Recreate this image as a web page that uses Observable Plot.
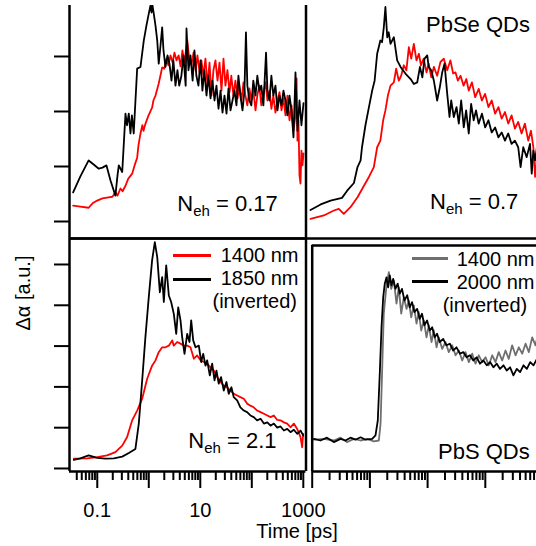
<!DOCTYPE html>
<html>
<head>
<meta charset="utf-8">
<script src="https://cdn.jsdelivr.net/npm/d3@7"></script>
<script src="https://cdn.jsdelivr.net/npm/@observablehq/plot@0.6"></script>
<style>
  html, body { margin: 0; padding: 0; background: white; }
  #chart { position: relative; width: 536px; height: 546px; overflow: hidden; background: white; }
  .lbl { position: absolute; font-family: "Liberation Sans", Arial, sans-serif; line-height: 1; white-space: nowrap; color: black; }
</style>
</head>
<body>
<div id="chart"></div>
<script>
// ---------- data: [time (ps), signal (a.u.)] ----------
const tlRed = [[0.034,0.29],[0.047,0.27],[0.068,0.25],[0.081,0.33],[0.0995,0.38],[0.126,0.42],[0.165,0.44],[0.197,0.45],[0.225,0.53],[0.247,0.47],[0.282,0.60],[0.31,0.55],[0.353,0.65],[0.40,0.78],[0.476,0.87],[0.53,1.02],[0.595,1.16],[0.63,1.38],[0.69,1.60],[0.75,1.75],[0.79,1.65],[0.863,1.78],[0.99,1.93],[1.16,2.07],[1.23,2.20],[1.35,2.29],[1.56,2.51],[1.82,2.80],[2.0,2.78],[2.2,2.96],[2.4,2.84],[2.64,3.02],[2.9,2.89],[3.15,3.07],[3.45,2.93],[3.8,3.02],[4.13,2.82],[4.5,3.11],[4.9,2.89],[5.6,3.29],[6.1,2.96],[6.7,2.84],[7.4,3.07],[8.1,2.75],[8.8,3.02],[9.7,2.71],[10.5,2.93],[11.5,2.65],[12.6,2.96],[13.8,2.47],[15.1,2.89],[16.5,2.29],[18,2.75],[19.7,2.93],[21.6,2.56],[23.6,2.89],[25.8,2.38],[28.2,2.96],[30.8,2.47],[33.7,2.75],[37,2.35],[40,2.65],[44,2.29],[48,2.56],[53,2.24],[57,2.47],[63,2.20],[69,2.53],[75,2.29],[82,2.11],[90,2.42],[98,2.20],[107,2.38],[118,2.02],[128,2.29],[140,2.47],[153,2.11],[168,2.35],[185,2.53],[201,2.20],[220,2.38],[240,2.05],[262,2.29],[288,1.98],[315,2.20],[345,2.35],[377,2.02],[412,2.24],[451,1.93],[493,2.29],[539,1.84],[590,2.11],[645,1.65],[705,1.93],[740,2.6],[770,1.47],[806,1.84],[843,0.84],[882,0.69],[920,1.29],[965,1.02],[1009,1.24]];
const tlBlack = [[0.034,0.53],[0.047,0.82],[0.068,1.11],[0.084,1.04],[0.107,0.96],[0.126,0.98],[0.151,1.02],[0.18,0.75],[0.225,0.47],[0.247,0.84],[0.262,1.02],[0.305,0.90],[0.353,1.96],[0.377,1.75],[0.409,1.96],[0.441,1.60],[0.47,1.93],[0.51,1.60],[0.595,2.78],[0.69,2.81],[0.80,3.29],[0.90,3.56],[1.0,3.78],[1.08,3.93],[1.13,3.80],[1.18,3.93],[1.25,3.78],[1.35,3.56],[1.46,3.29],[1.56,2.87],[1.69,3.20],[1.82,3.53],[1.93,3.11],[2.11,2.81],[2.31,3.02],[2.52,2.87],[2.76,2.56],[3.0,2.93],[3.3,2.47],[3.6,2.75],[3.9,2.47],[4.3,2.65],[4.7,3.02],[5.2,2.47],[5.4,3.51],[5.9,2.75],[6.45,3.02],[7.1,2.56],[7.7,3.11],[8.4,2.65],[9.2,2.47],[10.1,2.93],[11,2.38],[12,2.75],[13.2,2.29],[14.4,2.65],[15.8,2.24],[17.2,2.56],[18.9,2.20],[20.6,2.47],[22.6,2.05],[24.7,2.38],[27,1.98],[29.5,2.29],[32.3,1.96],[35.3,2.42],[38.6,2.02],[42.2,2.20],[46.1,2.38],[50.4,2.11],[55,2.65],[60,2.29],[66,2.02],[72,2.38],[77,3.44],[82,2.47],[90,2.20],[98,2.11],[107,2.56],[118,2.29],[128,2.65],[140,2.38],[153,2.47],[168,2.11],[189,3.07],[201,2.38],[220,2.20],[240,2.65],[262,2.29],[288,2.47],[315,2.02],[345,2.29],[377,2.11],[412,2.38],[451,2.20],[493,1.93],[539,2.29],[590,2.02],[645,1.53],[705,2.71],[770,1.65],[843,2.20],[920,1.75],[1009,2.15]];

const trRed = [[0.033,0.05],[0.06,0.11],[0.094,0.20],[0.117,0.23],[0.146,0.14],[0.197,0.26],[0.27,0.44],[0.36,0.65],[0.45,0.81],[0.56,0.99],[0.65,1.35],[0.75,1.47],[0.85,1.84],[0.94,2.02],[1.05,2.29],[1.18,2.47],[1.37,2.53],[1.52,2.78],[1.71,2.56],[1.90,2.65],[2.14,2.84],[2.4,2.75],[2.68,3.17],[2.98,2.96],[3.35,3.23],[3.77,2.93],[4.2,3.05],[4.6,2.84],[5.2,2.96],[5.9,2.71],[6.5,2.87],[7.3,2.62],[8.2,2.81],[9.5,2.65],[11,2.90],[12.8,2.96],[14.9,2.75],[17.2,2.93],[19.4,2.69],[21.6,2.71],[24,2.56],[27,2.65],[31,2.47],[35,2.59],[39,2.38],[45,2.53],[52,2.26],[61,2.41],[70,2.20],[81,2.32],[94,2.08],[109,2.20],[127,1.96],[147,2.08],[170,1.87],[197,1.99],[228,1.78],[265,1.93],[307,1.69],[356,1.81],[414,1.60],[480,1.78],[557,1.47],[630,1.65],[700,1.35],[758,0.81],[820,1.17]];
const trBlack = [[0.033,0.21],[0.052,0.31],[0.081,0.38],[0.135,0.43],[0.17,0.56],[0.23,0.70],[0.27,0.99],[0.31,1.11],[0.33,1.35],[0.385,1.75],[0.45,2.08],[0.52,2.38],[0.58,2.56],[0.65,3.05],[0.75,3.29],[0.81,3.26],[0.875,3.53],[0.94,3.90],[1.02,3.35],[1.09,3.44],[1.18,3.23],[1.37,3.35],[1.59,2.93],[1.85,2.81],[2.3,2.69],[2.9,2.59],[3.35,2.50],[3.9,2.53],[4.4,2.81],[4.9,2.62],[5.4,2.96],[6.1,3.02],[6.5,2.81],[7.3,2.75],[8.2,2.56],[9.5,2.20],[10.7,2.44],[11.9,2.71],[13.2,2.87],[14.9,2.32],[16.5,1.90],[17.8,2.20],[20,1.90],[22.6,2.08],[25,1.78],[27.8,2.20],[31.2,1.71],[34.7,2.02],[39,1.60],[43.4,2.14],[48.6,1.84],[54,2.02],[60.7,1.78],[70.4,1.96],[81.4,1.71],[94,1.84],[109,1.62],[127,1.71],[147,1.53],[170,1.62],[197,1.47],[228,1.60],[265,1.41],[307,1.47],[356,1.35],[396,0.99],[446,1.35],[520,1.17],[603,1.41],[652,0.87],[700,1.29],[758,1.11],[820,1.35]];

const blRed = [[0.035,0.24],[0.064,0.25],[0.0995,0.28],[0.155,0.32],[0.225,0.40],[0.305,0.56],[0.38,0.77],[0.476,1.18],[0.595,1.42],[0.745,1.71],[0.93,2.20],[1.16,2.52],[1.35,2.65],[1.56,2.85],[1.82,2.97],[2.11,2.97],[2.45,3.01],[2.85,3.14],[3.06,3.01],[3.56,3.10],[4.13,3.06],[4.79,3.01],[5.57,3.01],[6.45,2.97],[7.5,2.69],[8.7,2.77],[10.1,2.65],[11.7,2.61],[13.6,2.57],[15.8,2.48],[18.4,2.40],[21.3,2.24],[24.7,2.12],[28.6,2.03],[33.2,1.99],[38.6,1.91],[44.8,1.83],[52,1.79],[60,1.75],[70,1.71],[81,1.59],[94,1.54],[109,1.50],[127,1.42],[148,1.38],[172,1.34],[200,1.30],[231,1.26],[268,1.30],[312,1.19],[361,1.18],[420,1.13],[487,1.10],[564,1.01],[655,1.10],[760,0.97],[882,0.77],[950,0.52],[995,0.85]];
const blBlack = [[0.035,0.21],[0.047,0.25],[0.068,0.32],[0.0995,0.26],[0.144,0.24],[0.21,0.25],[0.305,0.29],[0.41,0.38],[0.55,0.48],[0.64,1.10],[0.745,2.16],[0.86,3.22],[1.0,4.20],[1.16,5.10],[1.31,5.55],[1.46,5.18],[1.64,4.32],[1.82,4.69],[1.96,4.08],[2.18,4.98],[2.45,4.24],[2.72,4.08],[3.06,3.79],[3.41,3.30],[3.73,3.95],[4.13,3.63],[4.45,3.22],[4.94,2.81],[5.57,3.30],[6.17,3.10],[6.66,3.63],[7.29,3.14],[8.07,2.97],[9.37,3.01],[10.4,2.61],[11.4,2.81],[12.6,2.52],[13.6,2.65],[15.3,2.28],[17,2.57],[18.9,2.16],[20.6,2.40],[22.8,2.08],[25.3,2.24],[28.6,1.91],[32.2,2.12],[35.7,1.83],[40.2,1.99],[44.6,1.75],[52,1.67],[60,1.50],[70,1.42],[81,1.38],[94,1.30],[109,1.26],[127,1.18],[148,1.22],[172,1.10],[200,1.13],[231,1.05],[268,1.10],[312,1.00],[361,1.03],[420,0.93],[487,0.97],[564,0.89],[655,0.95],[760,0.85],[882,0.93],[995,0.81]];

const brGray = [[0.107,0.02],[0.159,0.04],[0.237,0.0],[0.31,0.07],[0.40,-0.04],[0.53,0.04],[0.69,0],[0.90,0.04],[1.17,-0.02],[1.43,0],[1.53,0.42],[1.63,1.75],[1.74,3.17],[1.94,3.88],[2.13,4.21],[2.34,3.79],[2.6,4.0],[2.89,3.42],[3.17,3.83],[3.49,3.17],[3.87,3.58],[4.31,3.29],[4.72,3.5],[5.2,3.08],[5.77,3.38],[6.43,2.92],[7.04,3.21],[7.74,2.75],[8.6,3.0],[9.57,2.58],[10.5,2.88],[11.7,2.46],[12.8,2.75],[14.3,2.33],[15.6,2.58],[17.9,2.29],[20.4,2.46],[23.3,2.21],[26.7,2.38],[30.5,2.13],[34.8,2.25],[39.8,2.0],[45.4,2.21],[51.8,1.96],[59.3,2.17],[67.6,1.92],[77.1,2.13],[88.3,1.96],[101,2.08],[115,1.88],[132,2.13],[150,1.96],[171,2.21],[196,2.0],[224,2.25],[255,2.04],[292,2.38],[334,2.13],[381,2.33],[436,2.17],[498,2.42],[568,2.21],[650,2.58],[741,2.38],[813,2.63]];
const brBlack = [[0.107,0.04],[0.139,0],[0.18,0.07],[0.237,-0.04],[0.31,0.04],[0.378,0],[0.46,0.07],[0.56,0.02],[0.69,0.08],[0.84,0.02],[1.095,0.04],[1.25,0.13],[1.37,0.5],[1.49,1.75],[1.59,2.83],[1.70,3.58],[1.81,3.92],[1.94,4.08],[2.07,3.83],[2.21,4.13],[2.36,3.88],[2.53,4.04],[2.77,3.79],[3.03,3.92],[3.29,3.67],[3.6,3.79],[3.97,3.5],[4.43,3.63],[4.9,3.33],[5.38,3.46],[5.9,3.21],[6.6,3.29],[7.3,3.04],[8.0,3.17],[8.8,2.88],[9.8,3.0],[10.9,2.75],[12.0,2.83],[13.3,2.58],[14.6,2.67],[16.2,2.46],[18.6,2.54],[21.2,2.38],[24.3,2.42],[27.7,2.25],[31.7,2.33],[36.3,2.17],[41.5,2.21],[47.4,2.08],[54.2,2.13],[61.9,2.0],[70.8,2.08],[80.9,1.92],[92.5,2.0],[106,1.88],[121,1.96],[138,1.83],[158,1.92],[180,1.79],[206,1.88],[235,1.75],[269,1.83],[307,1.63],[351,1.79],[401,1.71],[459,1.88],[525,1.79],[600,1.96],[685,1.88],[783,2.04]];

// ---------- scales / ticks ----------
const xDomainLeft = [0.0289, 1128];
const xDomainTR = [0.0276, 1972];
const xDomainBR = [0.1, 2010];
const yDomainTop = [-0.309, 3.927];
const yDomainBL = [-0.074, 5.637];
const yDomainBR = [-0.775, 4.875];
const yTicksTL = [0, 1, 2, 3];
const yTicksBL = [0, 1, 2, 3, 4, 5];
const xMajorTicks = [0.1, 1, 10, 100, 1000];
const xLabelTicks = [0.1, 10, 1000];
const xTickLabels = ["0.1", "10", "1000"];
const decades = [0.01, 0.1, 1, 10, 100, 1000];
const mantissas = [2, 3, 4, 5, 6, 7, 8, 9];

const RED = "#ff0000", BLACK = "#000000", GRAY = "#6f6f6f";
const FONT = "'Liberation Sans', Arial, sans-serif";

function minorTicks(domain) {
  const out = [];
  for (const d of decades) for (const m of mantissas) {
    const v = d * m;
    if (v > domain[0] * 1.04 && v < domain[1]) out.push(v);
  }
  return out;
}

const chart = document.getElementById("chart");
function place(svg, left, top) {
  svg.style.position = "absolute";
  svg.style.left = left + "px";
  svg.style.top = top + "px";
  svg.style.maxWidth = "none";
  chart.appendChild(svg);
}
const baseStyle = {fontFamily: FONT, fontSize: "20px", background: "transparent", overflow: "visible", color: "black"};
const curve = (data, stroke) => Plot.line(data, {x: d => d[0], y: d => d[1], stroke, strokeWidth: 1.8, clip: true});
const noText = () => "";

// ---------- top-left ----------
place(Plot.plot({
  width: 310, height: 240, marginLeft: 69, marginRight: 4.5, marginTop: 5, marginBottom: 2,
  style: baseStyle,
  x: {type: "log", domain: xDomainLeft, axis: null},
  y: {domain: yDomainTop},
  marks: [
    curve(tlRed, RED),
    curve(tlBlack, BLACK),
    Plot.axisY(yTicksTL, {anchor: "left", tickSize: 15, strokeWidth: 2, tickFormat: noText, label: null}),
    Plot.ruleX([xDomainLeft[0]], {strokeWidth: 2.5}),
    Plot.ruleX([xDomainLeft[1]], {strokeWidth: 2.5}),
    Plot.ruleY([yDomainTop[0]], {strokeWidth: 2.5})
  ]
}), 0, 0);

// ---------- top-right ----------
place(Plot.plot({
  width: 260, height: 240, marginLeft: 0, marginRight: 10, marginTop: 5, marginBottom: 2,
  style: baseStyle,
  x: {type: "log", domain: xDomainTR, axis: null},
  y: {domain: yDomainTop, axis: null},
  marks: [
    curve(trRed, RED),
    curve(trBlack, BLACK),
    Plot.ruleY([yDomainTop[0]], {strokeWidth: 2.5})
  ]
}), 306, 0);

// ---------- bottom-left ----------
place(Plot.plot({
  width: 310, height: 308, marginLeft: 69, marginRight: 4.5, marginTop: 0, marginBottom: 75,
  style: baseStyle,
  x: {type: "log", domain: xDomainLeft},
  y: {domain: yDomainBL},
  marks: [
    curve(blRed, RED),
    curve(blBlack, BLACK),
    Plot.axisY(yTicksBL, {anchor: "left", tickSize: 15, strokeWidth: 2, tickFormat: noText, label: null}),
    Plot.axisX(minorTicks(xDomainLeft), {anchor: "bottom", tickSize: 9, strokeWidth: 2, tickFormat: noText, label: null}),
    Plot.axisX(xMajorTicks, {anchor: "bottom", tickSize: 17, strokeWidth: 2, tickFormat: noText, label: null}),
    Plot.axisX(xLabelTicks, {anchor: "bottom", tickSize: 0, tickPadding: 31.5, fontSize: 20,
      tickFormat: d => xTickLabels[xLabelTicks.indexOf(d)], label: null}),
    Plot.ruleX([xDomainLeft[0]], {strokeWidth: 2.5}),
    Plot.ruleX([xDomainLeft[1]], {strokeWidth: 2.5}),
    Plot.ruleY([yDomainBL[0]], {strokeWidth: 2.5}),
    Plot.ruleY([yDomainBL[1]], {strokeWidth: 2.5})
  ]
}), 0, 238);

// ---------- bottom-right ----------
place(Plot.plot({
  width: 270, height: 308, marginLeft: 11.7, marginRight: 10, marginTop: 7, marginBottom: 75,
  style: baseStyle,
  x: {type: "log", domain: xDomainBR},
  y: {domain: yDomainBR, axis: null},
  marks: [
    curve(brGray, GRAY),
    curve(brBlack, BLACK),
    Plot.axisX(minorTicks(xDomainBR), {anchor: "bottom", tickSize: 9, strokeWidth: 2, tickFormat: noText, label: null}),
    Plot.axisX(xMajorTicks, {anchor: "bottom", tickSize: 17, strokeWidth: 2, tickFormat: noText, label: null}),
    Plot.ruleX([xDomainBR[0]], {strokeWidth: 2.5}),
    Plot.ruleY([yDomainBR[0]], {strokeWidth: 2.5}),
    Plot.ruleY([yDomainBR[1]], {strokeWidth: 2.5})
  ]
}), 300, 238);

// ---------- annotations ----------
function label(html, {x, baseline, size = 20, anchor = "start"}) {
  const d = document.createElement("div");
  d.className = "lbl";
  d.innerHTML = html;
  d.style.fontSize = size + "px";
  d.style.top = (baseline - 0.8465 * size) + "px";
  if (anchor === "start") d.style.left = x + "px";
  else if (anchor === "end") { d.style.left = (x - 400) + "px"; d.style.width = "400px"; d.style.textAlign = "right"; }
  else { d.style.left = (x - 200) + "px"; d.style.width = "400px"; d.style.textAlign = "center"; }
  chart.appendChild(d);
  return d;
}
function swatch(x1, x2, y, color) {
  const d = document.createElement("div");
  d.style.cssText = `position:absolute;left:${x1}px;top:${y - 1.5}px;width:${x2 - x1}px;height:3px;background:${color};`;
  chart.appendChild(d);
}
const sub = s => `<span style="font-size:15px;vertical-align:-5px">${s}</span>`;

label(`N${sub("eh")} = 0.17`, {x: 177.3, baseline: 211.7, size: 22});
label(`N${sub("eh")} = 0.7`, {x: 430, baseline: 209.3, size: 22});
label(`N${sub("eh")} = 2.1`, {x: 188.3, baseline: 448.3, size: 22});
label("PbSe QDs", {x: 426, baseline: 33, size: 22});
label("PbS QDs", {x: 438, baseline: 460, size: 22});

swatch(173.3, 210.7, 255, RED);
swatch(173.3, 210.7, 279.3, BLACK);
label("1400 nm", {x: 298.5, baseline: 262, anchor: "end"});
label("1850 nm", {x: 298.5, baseline: 285, anchor: "end"});
label("(inverted)", {x: 297, baseline: 308, anchor: "end"});

swatch(411.7, 448, 258.3, GRAY);
swatch(411.7, 448, 281.7, BLACK);
label("1400 nm", {x: 456.7, baseline: 266});
label("2000 nm", {x: 456.7, baseline: 289.3});
label("(inverted)", {x: 442.7, baseline: 312});

label("Time [ps]", {x: 297, baseline: 538, anchor: "middle"});

const yl = document.createElement("div");
yl.className = "lbl";
yl.textContent = "Δα [a.u.]";
yl.style.cssText += "font-size:20px;left:" + (22.6 - 100) + "px;top:" + (292.5 - 10) + "px;width:200px;height:20px;text-align:center;transform:rotate(-90deg);transform-origin:50% 50%;";
chart.appendChild(yl);
</script>
</body>
</html>
